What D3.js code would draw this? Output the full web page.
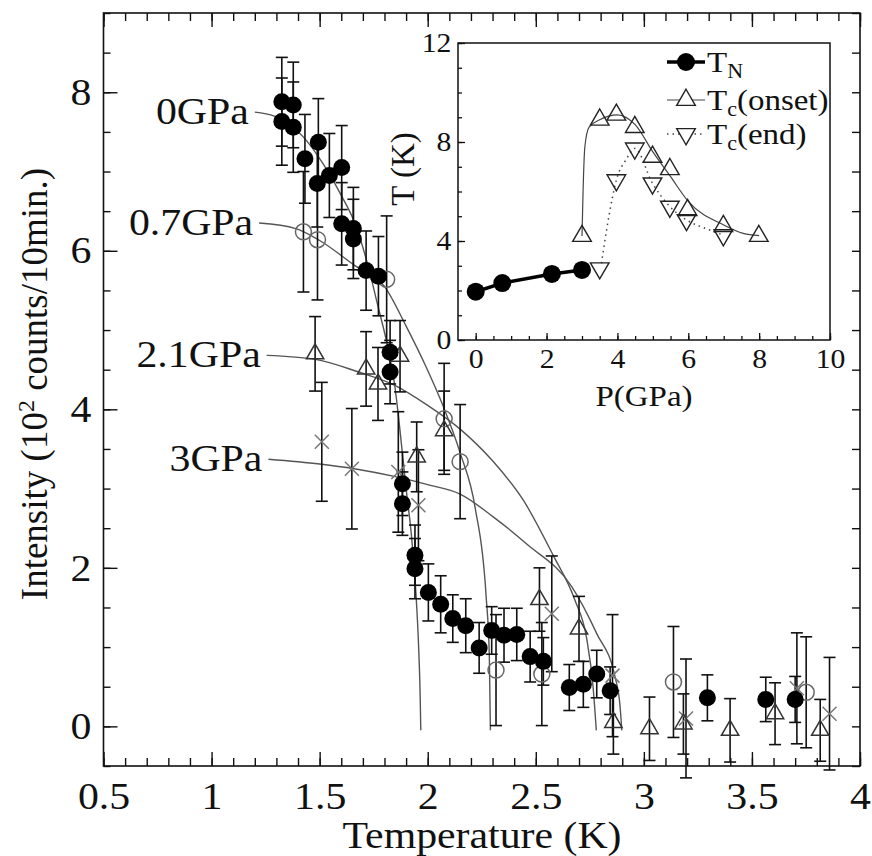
<!DOCTYPE html>
<html>
<head>
<meta charset="utf-8">
<script src="https://cdn.jsdelivr.net/npm/d3@7"></script>
<style>
body{margin:0;background:#fff}
svg{display:block}
</style>
</head>
<body>
<div id="chart"></div>
<script>
// ---- main plot data ----
// 0 GPa, filled circles
const t0 = [1.325,1.378,1.325,1.378,1.494,1.432,1.489,1.545,1.602,1.602,1.656,1.656,1.715,1.772,1.826,1.826,1.883,1.883,1.941,1.941,2.003,2.06,2.116,2.176,2.238,2.296,2.353,2.412,2.474,2.535,2.655,2.72,2.782,2.844,3.294,3.564,3.70];
const i0 = [7.88,7.84,7.63,7.56,7.37,7.16,6.85,6.95,7.05,6.34,6.28,6.15,5.75,5.68,4.72,4.47,3.06,2.81,2.16,1.99,1.69,1.54,1.36,1.27,0.99,1.21,1.15,1.16,0.88,0.82,0.49,0.53,0.66,0.45,0.36,0.34,0.34];
const e0 = [0.56,0.54,0.55,0.57,0.55,0.56,0.55,0.53,0.53,0.52,0.52,0.5,0.5,0.5,0.4,0.4,0.4,0.4,0.38,0.38,0.36,0.36,0.3,0.34,0.32,0.3,0.34,0.33,0.32,0.3,0.29,0.29,0.3,0.3,0.29,0.28,0.29];
// 0.7 GPa, open circles
const t07 = [1.425,1.49,1.81,2.076,2.15,2.316,2.528,3.137,3.751];
const i07 = [6.24,6.14,5.64,3.88,3.34,0.71,0.66,0.56,0.43];
const e07 = [0.76,0.76,0.8,0.7,0.72,0.7,0.65,0.7,0.7];
// 2.1 GPa, open triangles
const t21 = [1.479,1.715,1.77,1.872,1.949,2.076,2.517,2.70,2.859,3.026,3.183,3.399,3.607,3.816];
const i21 = [4.70,4.51,4.32,4.67,3.40,3.73,1.60,1.23,0.05,-0.03,0.03,-0.05,0.16,-0.05];
const e21 = [0.47,0.47,0.46,0.45,0.44,0.5,0.4,0.41,0.4,0.4,0.38,0.4,0.39,0.39];
// 3 GPa, crosses
const t3 = [1.51,1.649,1.864,1.957,2.574,2.855,3.195,3.708,3.859];
const i3 = [3.59,3.25,3.21,2.79,1.42,0.64,0.10,0.48,0.16];
const e3 = [0.75,0.76,0.76,0.7,0.73,0.77,0.75,0.7,0.71];

// fit curves
const fit0T = [1.20,1.29,1.42,1.52,1.60,1.67,1.72,1.77,1.81,1.85,1.875,1.90,1.925,1.945,1.958,1.965,1.968];
const fit0I = [7.75,7.70,7.45,7.08,6.70,6.30,5.85,5.30,4.85,4.25,3.65,3.0,2.4,1.7,1.0,0.4,-0.05];
const fit07T = [1.22,1.39,1.50,1.66,1.80,1.90,1.99,2.07,2.15,2.22,2.27,2.285,2.29];
const fit07I = [6.35,6.28,6.13,5.82,5.55,5.05,4.55,4.05,3.45,2.75,1.65,0.9,-0.05];
const fit21T = [1.255,1.48,1.67,1.85,2.0,2.15,2.3,2.443,2.58,2.68,2.736,2.765,2.78];
const fit21I = [4.68,4.63,4.48,4.3,4.05,3.75,3.35,2.85,2.16,1.6,1.1,0.5,-0.05];
const fit3T = [1.263,1.50,1.66,1.85,2.0,2.15,2.3,2.458,2.667,2.782,2.867,2.89,2.898];
const fit3I = [3.37,3.31,3.25,3.15,3.05,2.93,2.65,2.30,1.76,1.17,0.62,0.25,-0.05];
const fitLabels = ["0GPa","0.7GPa","2.1GPa","3GPa"];

const xTicks = [0.5,1,1.5,2,2.5,3,3.5,4];
const yTicks = [0,2,4,6,8];

// ---- inset data ----
const pN = [0,0.75,2.15,3.0];
const tN = [1.95,2.3,2.67,2.83];
const pOn = [3.0,3.5,3.97,4.49,4.99,5.48,5.98,6.99,7.99];
const tOn = [4.2,8.9,9.1,8.6,7.4,6.9,5.25,4.6,4.2];
const pEnd = [3.5,3.97,4.49,4.99,5.48,5.95,6.99];
const tEnd = [2.9,6.46,7.74,6.33,5.39,4.85,4.24];
const pOnLine = [3.0,3.03,3.08,3.2,3.5,4.0,4.5,5.0,5.5,6.0,7.0,7.55,8.0];
const tOnLine = [4.2,6.0,7.8,8.6,8.9,9.1,8.7,7.6,6.6,5.6,4.65,4.31,4.22];
const pEndLine = [3.55,3.7,3.85,3.97,4.25,4.49,4.99,5.48,5.95,6.5,6.99];
const tEndLine = [3.1,4.5,5.7,6.46,7.3,7.74,6.33,5.39,4.85,4.5,4.24];
const insetXTicks = [0,2,4,6,8,10];
const insetYTicks = [0,4,8,12];

const width = 872, height = 856;
const stretch = "scale(1.1,1)";

const svg = d3.select("#chart")
.append("svg")
.attr("width",width)
.attr("height",height)
.attr("font-family","'Liberation Serif', Tinos, 'Times New Roman', serif");

const x = d3.scaleLinear().domain([0.5,4]).range([103.5,860]);
const y = d3.scaleLinear().domain([-0.5,9]).range([766,13]);

const zip = (a,b,c) => a.map((v,k)=>({t:v,i:b[k],e:c?c[k]:0}));

// axes (ticks point inward)
function ticks(axis, tx, ty){
  const g = svg.append("g").attr("transform",`translate(${tx},${ty})`).call(axis);
  g.attr("font-family",null);
  g.select(".domain").remove();
  g.selectAll("line").attr("stroke","#111").attr("stroke-width",1.4);
  g.selectAll("text").attr("fill","#111");
  return g;
}
const gx = ticks(d3.axisBottom(x).tickValues(xTicks).tickSize(-14).tickPadding(16).tickFormat(d3.format("")),0,766);
gx.selectAll("text").attr("font-size",38).attr("transform",stretch);
ticks(d3.axisBottom(x).tickValues(d3.range(0.5,4.001,0.1)).tickSize(-8).tickFormat(""),0,766);
ticks(d3.axisTop(x).tickValues(xTicks).tickSize(-14).tickFormat(""),0,13);
ticks(d3.axisTop(x).tickValues(d3.range(0.5,4.001,0.1)).tickSize(-8).tickFormat(""),0,13);
const gy = ticks(d3.axisLeft(y).tickValues(yTicks).tickSize(-14).tickPadding(11),103.5,0);
gy.selectAll("text").attr("font-size",38).attr("transform",stretch);
ticks(d3.axisLeft(y).tickValues(d3.range(-0.5,9.001,0.5)).tickSize(-7).tickFormat(""),103.5,0);
ticks(d3.axisRight(y).tickValues(d3.range(-0.5,9.001,0.5)).tickSize(-8).tickFormat(""),860,0);

// fit curves
const line = d3.line().x(d=>x(d.t)).y(d=>y(d.i)).curve(d3.curveMonotoneX);
[[fit0T,fit0I],[fit07T,fit07I],[fit21T,fit21I],[fit3T,fit3I]].forEach(([a,b],k)=>{
  const pts = zip(a,b);
  svg.append("path").datum(pts).attr("d",line)
  .attr("fill","none").attr("stroke","#555").attr("stroke-width",1.4);
  svg.append("text")
  .attr("transform",`translate(${x(a[0])-6},${y(b[0])+12}) ${stretch}`)
  .attr("text-anchor","end").attr("font-size",38).attr("fill","#111")
  .text(fitLabels[k]);
});

// error bars
function errorBars(data){
  const g = svg.append("g").attr("stroke","#111").attr("stroke-width",1.6);
  data.forEach(d=>{
    const cx = x(d.t), y1 = y(d.i-d.e), y2 = y(d.i+d.e);
    g.append("line").attr("x1",cx).attr("x2",cx).attr("y1",y1).attr("y2",y2);
    g.append("line").attr("x1",cx-6).attr("x2",cx+6).attr("y1",y1).attr("y2",y1);
    g.append("line").attr("x1",cx-6).attr("x2",cx+6).attr("y1",y2).attr("y2",y2);
  });
}
const d0 = zip(t0,i0,e0), d07 = zip(t07,i07,e07), d21 = zip(t21,i21,e21), d3p = zip(t3,i3,e3);
[d07,d21,d3p,d0].forEach(errorBars);

// markers
svg.append("g").selectAll("path").data(d3p).enter().append("path")
.attr("d","M-7,-7L7,7M-7,7L7,-7")
.attr("transform",d=>`translate(${x(d.t)},${y(d.i)})`)
.attr("stroke","#777").attr("stroke-width",1.5).attr("fill","none");

svg.append("g").selectAll("circle").data(d07).enter().append("circle")
.attr("cx",d=>x(d.t)).attr("cy",d=>y(d.i)).attr("r",8)
.attr("fill","none").attr("stroke","#666").attr("stroke-width",1.5);

svg.append("g").selectAll("path").data(d21).enter().append("path")
.attr("d",d3.symbol(d3.symbolTriangle,130))
.attr("transform",d=>`translate(${x(d.t)},${y(d.i)})`)
.attr("fill","none").attr("stroke","#333").attr("stroke-width",1.5);

svg.append("g").selectAll("circle").data(d0).enter().append("circle")
.attr("cx",d=>x(d.t)).attr("cy",d=>y(d.i)).attr("r",8.5)
.attr("fill","#000");

// frame
svg.append("rect").attr("x",103.5).attr("y",13).attr("width",860-103.5).attr("height",766-13)
.attr("fill","none").attr("stroke","#111").attr("stroke-width",1.6);

// axis titles
svg.append("text")
.attr("transform",`translate(482,848) ${stretch}`)
.attr("text-anchor","middle").attr("font-size",38).attr("fill","#111")
.text("Temperature (K)");

const yl = svg.append("text")
.attr("transform","translate(47,384) rotate(-90)")
.attr("text-anchor","middle").attr("font-size",37).attr("fill","#111");
yl.append("tspan").text("Intensity (10");
yl.append("tspan").attr("font-size",24).attr("dy",-13).text("2");
yl.append("tspan").attr("dy",13).text(" counts/10min.)");

// ---- inset ----
const ix = d3.scaleLinear().domain([-0.5,10]).range([458,830]);
const iy = d3.scaleLinear().domain([0,12]).range([340,43]);

svg.append("rect").attr("x",458).attr("y",43).attr("width",830-458).attr("height",340-43)
.attr("fill","#fff");

function iticks(axis, tx, ty){
  const g = svg.append("g").attr("transform",`translate(${tx},${ty})`).call(axis);
  g.attr("font-family",null);
  g.select(".domain").remove();
  g.selectAll("line").attr("stroke","#111").attr("stroke-width",1.3);
  g.selectAll("text").attr("fill","#111");
  return g;
}
const igx = iticks(d3.axisBottom(ix).tickValues(insetXTicks).tickSize(-7).tickPadding(9),0,340);
igx.selectAll("text").attr("font-size",27).attr("transform",stretch);
iticks(d3.axisBottom(ix).tickValues(d3.range(0,10.01,0.5)).tickSize(-4).tickFormat(""),0,340);
const igy = iticks(d3.axisLeft(iy).tickValues(insetYTicks).tickSize(-7).tickPadding(6),458,0);
igy.selectAll("text").attr("font-size",27).attr("transform",stretch);
iticks(d3.axisLeft(iy).tickValues(d3.range(0,12.01,1)).tickSize(-4).tickFormat(""),458,0);

const iline = d3.line().x(d=>ix(d.t)).y(d=>iy(d.i)).curve(d3.curveMonotoneX);
svg.append("path").datum(zip(pOnLine,tOnLine)).attr("d",iline)
.attr("fill","none").attr("stroke","#444").attr("stroke-width",1.2);
svg.append("path").datum(zip(pEndLine,tEndLine)).attr("d",iline)
.attr("fill","none").attr("stroke","#444").attr("stroke-width",1.5).attr("stroke-dasharray","1.5,4");
svg.append("path").datum(zip(pN,tN)).attr("d",d3.line().x(d=>ix(d.t)).y(d=>iy(d.i)))
.attr("fill","none").attr("stroke","#000").attr("stroke-width",3.5);

const triUp = d3.symbol(d3.symbolTriangle,150);
svg.append("g").selectAll("path").data(zip(pOn,tOn)).enter().append("path")
.attr("d",triUp).attr("transform",d=>`translate(${ix(d.t)},${iy(d.i)})`)
.attr("fill","none").attr("stroke","#222").attr("stroke-width",1.4);
svg.append("g").selectAll("path").data(zip(pEnd,tEnd)).enter().append("path")
.attr("d",triUp).attr("transform",d=>`translate(${ix(d.t)},${iy(d.i)}) rotate(180)`)
.attr("fill","none").attr("stroke","#222").attr("stroke-width",1.4);
svg.append("g").selectAll("circle").data(zip(pN,tN)).enter().append("circle")
.attr("cx",d=>ix(d.t)).attr("cy",d=>iy(d.i)).attr("r",9).attr("fill","#000");

svg.append("rect").attr("x",458).attr("y",43).attr("width",830-458).attr("height",340-43)
.attr("fill","none").attr("stroke","#111").attr("stroke-width",1.5);

// inset legend
const leg = [
  {sub:"N", rest:"", y:62, kind:"N"},
  {sub:"c", rest:"(onset)", y:100, kind:"on"},
  {sub:"c", rest:"(end)", y:134, kind:"end"}
];
leg.forEach(l=>{
  const ln = svg.append("line").attr("x1",667).attr("x2",705).attr("y1",l.y).attr("y2",l.y)
  .attr("stroke", l.kind==="N" ? "#000" : "#444");
  if(l.kind==="N"){
    ln.attr("stroke-width",3.5);
    svg.append("circle").attr("cx",686).attr("cy",l.y).attr("r",9).attr("fill","#000");
  } else {
    ln.attr("stroke-width", l.kind==="on" ? 1.2 : 1.5);
    if(l.kind==="end") ln.attr("stroke-dasharray","1.5,4");
    svg.append("path").attr("d",triUp)
    .attr("transform",`translate(686,${l.y}) ${l.kind==="end" ? "rotate(180)" : ""}`)
    .attr("fill","#fff").attr("stroke","#222").attr("stroke-width",1.4);
  }
  const tx = svg.append("text").attr("transform",`translate(707,${l.y+10}) ${stretch}`)
  .attr("font-size",30).attr("fill","#111");
  tx.append("tspan").text("T");
  tx.append("tspan").attr("font-size",20).attr("dy",6).text(l.sub);
  if(l.rest) tx.append("tspan").attr("dy",-6).text(l.rest);
});

// inset titles
svg.append("text")
.attr("transform",`translate(644,406) ${stretch}`)
.attr("text-anchor","middle").attr("font-size",30).attr("fill","#111")
.text("P(GPa)");
svg.append("text")
.attr("transform","translate(414,169) rotate(-90)")
.attr("text-anchor","middle").attr("font-size",33).attr("fill","#111")
.text("T (K)");
</script>
</body>
</html>
